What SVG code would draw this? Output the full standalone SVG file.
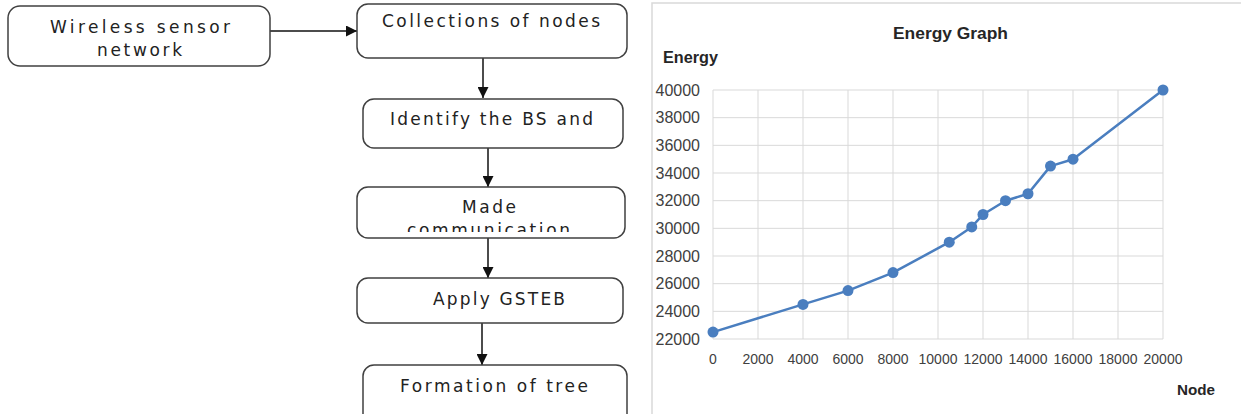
<svg xmlns="http://www.w3.org/2000/svg" width="1241" height="414" viewBox="0 0 1241 414">
<style>
.box{fill:#fff;stroke:#404040;stroke-width:1.5}
.ft{font-family:"DejaVu Sans",Verdana,sans-serif;font-size:17px;fill:#222}
.conn{stroke:#111;stroke-width:1.5;fill:none}
.grid{stroke:#d9d9d9;stroke-width:1;fill:none}
.ax{font-family:"Liberation Sans",Arial,sans-serif;fill:#404040}
.ttl{font-family:"Liberation Sans",Arial,sans-serif;font-weight:bold;fill:#262626}
.ser{stroke:#4a7ebf;stroke-width:2.5;fill:none;stroke-linejoin:round}
.pt{fill:#4a7ebf}
</style>
<defs>
<marker id="ah" markerUnits="userSpaceOnUse" markerWidth="11" markerHeight="11" refX="11" refY="5.5" orient="auto">
<path d="M0,0 L11,5.5 L0,11 z" fill="#111"/>
</marker>
<clipPath id="clipComm"><rect x="357" y="215" width="268" height="17"/></clipPath>
</defs>

<g id="connectors">
<line class="conn" x1="270" y1="31" x2="357" y2="31" marker-end="url(#ah)"/>
<line class="conn" x1="483" y1="58" x2="483" y2="98" marker-end="url(#ah)"/>
<line class="conn" x1="488" y1="148" x2="488" y2="187" marker-end="url(#ah)"/>
<line class="conn" x1="488" y1="238" x2="488" y2="278" marker-end="url(#ah)"/>
<line class="conn" x1="482" y1="323" x2="482" y2="365" marker-end="url(#ah)"/>
</g>

<g id="node-wsn">
<rect class="box" x="8" y="6" width="262" height="60" rx="12"/>
<text class="ft" x="50" y="33" textLength="180" lengthAdjust="spacing">Wireless sensor</text>
<text class="ft" x="97" y="56" textLength="85" lengthAdjust="spacing">network</text>
</g>

<g id="node-collections">
<rect class="box" x="357" y="4" width="270" height="54" rx="11"/>
<text class="ft" x="382" y="27" textLength="218" lengthAdjust="spacing">Collections of nodes</text>
</g>

<g id="node-identify">
<rect class="box" x="363" y="99" width="260" height="49" rx="11"/>
<text class="ft" x="390" y="125" textLength="203" lengthAdjust="spacing">Identify the BS and</text>
</g>

<g id="node-made">
<rect class="box" x="357" y="187" width="268" height="51" rx="11"/>
<text class="ft" x="462" y="213" textLength="54" lengthAdjust="spacing">Made</text>
<text class="ft" x="407" y="236" textLength="163" lengthAdjust="spacing" clip-path="url(#clipComm)">communication</text>
</g>

<g id="node-apply">
<rect class="box" x="357" y="278" width="266" height="45" rx="11"/>
<text class="ft" x="433" y="305" textLength="132" lengthAdjust="spacing">Apply GSTEB</text>
</g>

<g id="node-formation">
<rect class="box" x="363" y="365" width="264" height="60" rx="11"/>
<text class="ft" x="400" y="392" textLength="188" lengthAdjust="spacing">Formation of tree</text>
</g>

<g id="chart">
<path d="M652,414 V3 H1241" stroke="#d9d9d9" stroke-width="1.5" fill="none"/>
<g class="grid">
<path d="M713,90 V339 M758,90 V339 M803,90 V339 M848,90 V339 M893,90 V339 M938,90 V339 M983,90 V339 M1028,90 V339 M1073,90 V339 M1118,90 V339 M1163,90 V339"/>
<path d="M713,90 H1163 M713,117.67 H1163 M713,145.33 H1163 M713,173 H1163 M713,200.67 H1163 M713,228.33 H1163 M713,256 H1163 M713,283.67 H1163 M713,311.33 H1163 M713,339 H1163"/>
</g>
<text class="ttl" x="893" y="39" font-size="16" textLength="115" lengthAdjust="spacingAndGlyphs">Energy Graph</text>
<text class="ttl" x="663" y="63" font-size="16" textLength="55" lengthAdjust="spacingAndGlyphs">Energy</text>
<text class="ttl" x="1177" y="395" font-size="15" textLength="38" lengthAdjust="spacingAndGlyphs">Node</text>
<g class="ax" font-size="16" text-anchor="end">
<text x="700" y="95.5">40000</text>
<text x="700" y="123.17">38000</text>
<text x="700" y="150.83">36000</text>
<text x="700" y="178.5">34000</text>
<text x="700" y="206.17">32000</text>
<text x="700" y="233.83">30000</text>
<text x="700" y="261.5">28000</text>
<text x="700" y="289.17">26000</text>
<text x="700" y="316.83">24000</text>
<text x="700" y="344.5">22000</text>
</g>
<g class="ax" font-size="14" text-anchor="middle">
<text x="713" y="364">0</text>
<text x="758" y="364">2000</text>
<text x="803" y="364">4000</text>
<text x="848" y="364">6000</text>
<text x="893" y="364">8000</text>
<text x="938" y="364">10000</text>
<text x="983" y="364">12000</text>
<text x="1028" y="364">14000</text>
<text x="1073" y="364">16000</text>
<text x="1118" y="364">18000</text>
<text x="1163" y="364">20000</text>
</g>
<polyline class="ser" points="713,332.1 803,304.4 848,290.6 893,272.6 949.25,242.2 971.75,226.95 983,214.5 1005.5,200.7 1028,193.75 1050.5,166.1 1073,159.2 1163,90"/>
<g class="pt">
<circle cx="713" cy="332.1" r="5.5"/>
<circle cx="803" cy="304.4" r="5.5"/>
<circle cx="848" cy="290.6" r="5.5"/>
<circle cx="893" cy="272.6" r="5.5"/>
<circle cx="949.25" cy="242.2" r="5.5"/>
<circle cx="971.75" cy="226.95" r="5.5"/>
<circle cx="983" cy="214.5" r="5.5"/>
<circle cx="1005.5" cy="200.7" r="5.5"/>
<circle cx="1028" cy="193.75" r="5.5"/>
<circle cx="1050.5" cy="166.1" r="5.5"/>
<circle cx="1073" cy="159.2" r="5.5"/>
<circle cx="1163" cy="90" r="5.5"/>
</g>
</g>
</svg>
